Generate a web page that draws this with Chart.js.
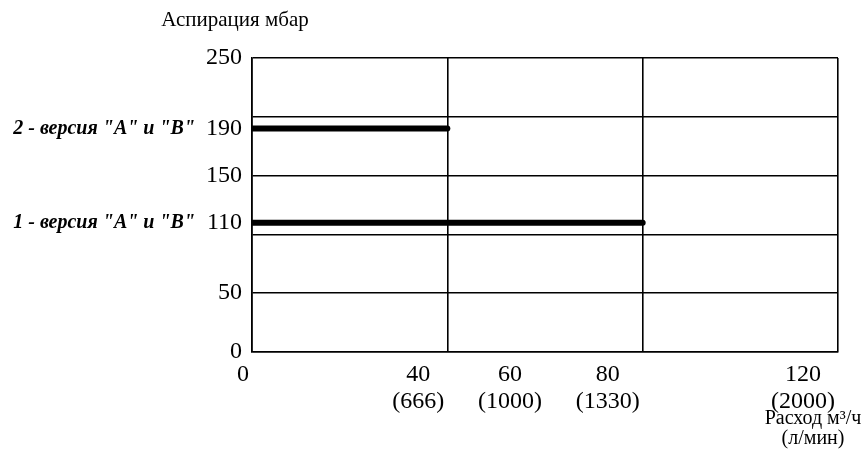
<!DOCTYPE html>
<html>
<head>
<meta charset="utf-8">
<script src="https://cdn.jsdelivr.net/npm/chart.js@4/dist/chart.umd.min.js"></script>
<style>
	html, body { margin: 0; padding: 0; background: #fff; }
	#wrap { width: 863px; height: 456px; position: relative; }
</style>
</head>
<body>
<div id="wrap"><canvas id="myChart"></canvas></div>
<script>
/* Chart data */
const versionLabels = ['1 - версия "A" и "B"', '2 - версия "A" и "B"'];
const aspirationMbar = [110, 190];
const flowLimit = [80, 40];

const yTickValues = [0, 50, 110, 150, 190, 250];
const yGridValues = [0, 50, 100, 150, 200, 250];
const xTickValues = [0, 40, 60, 80, 120];
const xTickLabels = [['0'], ['40', '(666)'], ['60', '(1000)'], ['80', '(1330)'], ['120', '(2000)']];
const xGridValues = [0, 40, 80, 120];

const yTitle = 'Аспирация мбар';
const xTitle = ['Расход м³/ч', '(л/мин)'];

const serif = "'Liberation Serif', 'DejaVu Serif', serif";
const ink = '#000';

// one dataset per version: horizontal line from 0 to its flow limit
const datasets = versionLabels.map((label, i) => ({
	label: label,
	data: [
		{ x: 0, y: aspirationMbar[i] },
		{ x: flowLimit[i], y: aspirationMbar[i] },
	],
	showLine: true,
	borderColor: ink,
	borderWidth: 6,
	borderCapStyle: 'round',
	pointRadius: 0,
}));

// text drawn around the plot, positioned from the scales
const textPlugin = {
	id: 'textPlugin',
	afterDraw(chart) {
		const ctx = chart.ctx;
		const x = chart.scales.x;
		const y = chart.scales.y;
		const area = chart.chartArea;
		ctx.save();
		ctx.fillStyle = ink;
		ctx.textBaseline = 'middle';

		// x tick labels: block right-aligned at its tick, lines centred
		ctx.font = '24px ' + serif;
		ctx.textAlign = 'center';
		xTickValues.forEach((v, i) => {
			const lines = xTickLabels[i];
			const w = Math.max(...lines.map((t) => ctx.measureText(t).width));
			const cx = x.getPixelForValue(v) - w / 2 - 3;
			lines.forEach((t, j) => {
				ctx.fillText(t, cx, area.bottom + 23 + j * 27);
			});
		});

		// version labels next to the y values
		ctx.font = 'italic bold 20px ' + serif;
		ctx.textAlign = 'right';
		versionLabels.forEach((label, i) => {
			ctx.fillText(label, area.left - 57, y.getPixelForValue(aspirationMbar[i]));
		});

		// axis titles
		ctx.font = '21px ' + serif;
		ctx.textAlign = 'center';
		ctx.fillText(yTitle, area.left - 17, 20);
		ctx.font = '20px ' + serif;
		ctx.fillText(xTitle[0], area.right - 25, 419);
		ctx.fillText(xTitle[1], area.right - 25, 439);
		ctx.restore();
	},
};

const chartContainer = document.getElementById('myChart').getContext('2d');
const chartConfig = {
	type: 'scatter',
	data: { datasets: datasets },
	options: {
		responsive: true,
		maintainAspectRatio: false,
		animation: false,
		layout: {
			padding: { left: 192, top: 58, right: 25, bottom: 104 },
		},
		scales: {
			x: {
				type: 'linear',
				min: 0,
				max: 120,
				afterBuildTicks: (scale) => {
					scale.ticks = xTickValues.map((v) => ({ value: v }));
				},
				grid: {
					drawTicks: false,
					lineWidth: 1.6,
					color: (context) =>
						xGridValues.includes(context.tick && context.tick.value) ? ink : 'rgba(0,0,0,0)',
				},
				border: { color: ink, width: 1.6 },
				ticks: { display: false },
			},
			y: {
				type: 'linear',
				min: 0,
				max: 250,
				afterBuildTicks: (scale) => {
					const vals = [...new Set([...yTickValues, ...yGridValues])].sort((a, b) => a - b);
					scale.ticks = vals.map((v) => ({ value: v }));
				},
				afterFit: (scale) => {
					scale.width = 60;
				},
				grid: {
					drawTicks: false,
					lineWidth: 1.6,
					color: (context) =>
						yGridValues.includes(context.tick && context.tick.value) ? ink : 'rgba(0,0,0,0)',
				},
				border: { color: ink, width: 1.6 },
				ticks: {
					color: ink,
					padding: 10,
					font: { family: serif, size: 24 },
					callback: (value) => (yTickValues.includes(value) ? String(value) : ''),
				},
			},
		},
		plugins: {
			legend: { display: false },
			tooltip: { enabled: false },
		},
	},
	plugins: [textPlugin],
};

const myChart = new Chart(chartContainer, chartConfig);
</script>
</body>
</html>
